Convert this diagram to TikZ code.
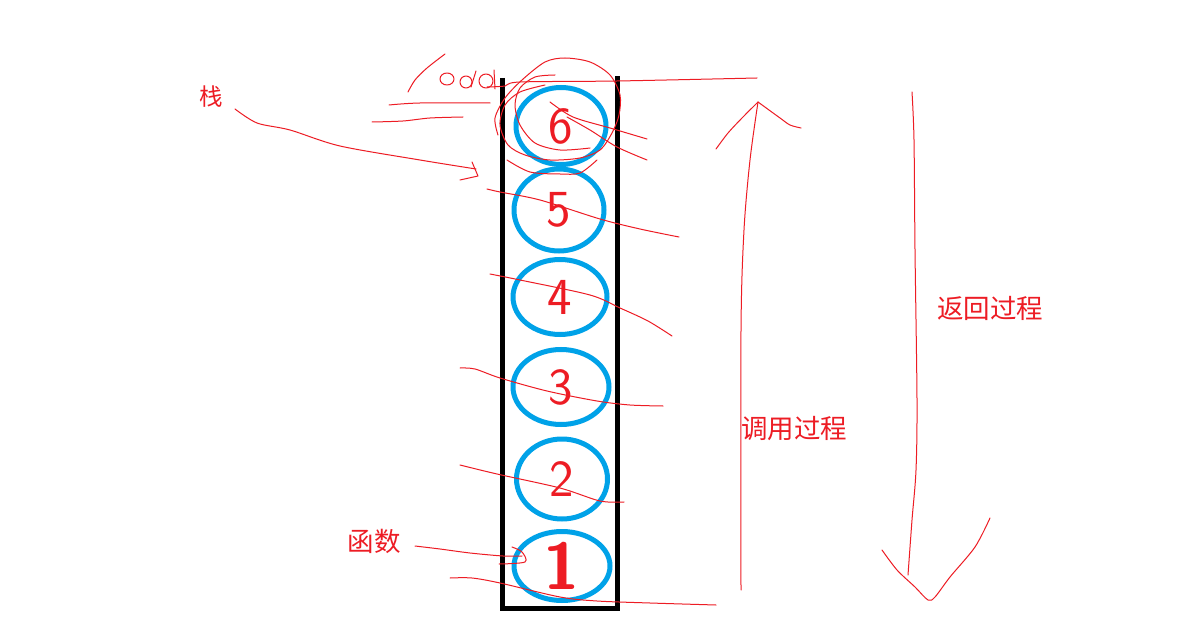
\documentclass[tikz,border=0pt]{standalone}
\usepackage{fontspec}
\newfontfamily\cjk{Noto Sans CJK SC}
\usetikzlibrary{shapes.geometric}
\definecolor{pred}{HTML}{ED1C24}
\definecolor{pblue}{HTML}{00A2E8}
\tikzset{
  frame/.style={line width=5pt, black},
  ball/.style={ellipse, draw=pblue, line width=5pt, inner sep=0pt, text=pred,
    font=\fontsize{52}{52}\selectfont\sffamily},
  scrib/.style={pred, line width=1pt, line join=round, line cap=round},
  lbl/.style={text=pred, font=\cjk\fontsize{26.5}{26.5}\selectfont, inner sep=0pt},
}
\begin{document}
\begin{tikzpicture}[x=1pt,y=-1pt]
\useasboundingbox[fill=white] (0,0) rectangle (1199,639);
% container
\coordinate (tl) at (502,78);
\coordinate (bl) at (502,608);
\coordinate (br) at (617,608);
\coordinate (tr) at (617,76);
\draw[frame] (tl) -- (bl) -- (br) -- (tr);
% balls
\node[ball, minimum width=90pt, minimum height=77pt] (b6) at (561,126) {6};
\node[ball, minimum width=90pt, minimum height=82pt] (b5) at (559,210) {5};
\node[ball, minimum width=94pt, minimum height=75pt] (b4) at (560,297) {4};
\node[ball, minimum width=96pt, minimum height=75pt] (b3) at (561,387) {3};
\node[ball, minimum width=91pt, minimum height=80pt] (b2) at (562,479) {2};
\node[ball, minimum width=96pt, minimum height=69pt, font=\fontsize{66}{66}\selectfont\sffamily\bfseries] (b1) at (562,566) {1};
% labels
\node[lbl, font=\cjk\fontsize{23.5}{23.5}\selectfont] (zhan) at (211,97) {栈};
\node[lbl] (hanshu) at (374,541) {函数};
\node[lbl] (diaoyong) at (794,429) {调用过程};
\node[lbl] (fanhui) at (990,308) {返回过程};
% arrow from 栈
\coordinate (zs) at (235,109);
\coordinate (ze) at (476,169);
\draw[scrib] plot[smooth] coordinates {(zs) (257,123) (290,130) (340,146) (420,160) (ze)};
\draw[scrib] (472,162) -- (478,176) -- (460,180);
% pointer from 函数
\draw[scrib] plot[smooth] coordinates {(415,546) (440,549) (470,553) (503,556) (522,556)};
\draw[scrib] plot[smooth] coordinates {(512,547) (522,552) (525,562) (499,564)};
% strike lines
\draw[scrib] plot[smooth] coordinates {(487,189) (500,192) (540,200) (600,219) (640,229) (679,237)};
\draw[scrib] plot[smooth] coordinates {(490,274) (520,280) (590,295) (620,308) (648,321) (672,336)};
\draw[scrib] plot[smooth] coordinates {(460,368) (475,369) (500,378) (547,391) (597,401) (630,405) (663,406)};
\draw[scrib] plot[smooth] coordinates {(460,465) (497,474) (560,488) (600,501) (624,502)};
\draw[scrib] plot[smooth] coordinates {(450,578) (472,578) (500,583) (560,597) (597,601) (650,603) (716,605)};
% top scribbles
\draw[scrib] plot[smooth] coordinates {(408,92) (415,80) (427,68) (445,54)};
\draw[scrib] (447,79) ellipse (7pt and 6pt);
\draw[scrib] (466,82) ellipse (6pt and 6pt);
\draw[scrib] (476,71) -- (471,87);
\draw[scrib] (486,81) ellipse (7pt and 7pt);
\draw[scrib] (494,70) -- (495,89);
\draw[scrib] plot[smooth] coordinates {(389,105) (420,103) (490,103)};
\draw[scrib] plot[smooth] coordinates {(372,122) (403,121) (430,118) (463,117)};
\draw[scrib] plot[smooth] coordinates {(487,87) (505,86) (520,82) (617,81) (757,78)};
\draw[scrib] plot[smooth] coordinates {(498,135) (495,118) (505,98) (522,80) (545,62) (565,58) (590,62) (610,75) (620,95) (619,115) (612,133) (600,150) (580,158) (550,160) (525,155) (508,145) (500,125) (505,105) (520,92) (545,85)};
\draw[scrib] plot[smooth] coordinates {(555,75) (535,77) (520,88) (515,105) (520,125) (535,143) (560,150) (590,148)};
\draw[scrib] plot[smooth] coordinates {(507,160) (530,172) (560,174) (580,173) (597,160)};
\draw[scrib] plot[smooth] coordinates {(550,102) (573,117) (610,128) (647,139)};
\draw[scrib] plot[smooth] coordinates {(567,117) (590,130) (617,147) (647,160)};
% call arrow (up)
\coordinate (ua) at (741,590);
\coordinate (ub) at (758,102);
\draw[scrib] plot[smooth] coordinates {(ua) (741,330) (744,230) (750,160) (ub)};
\draw[scrib] plot[smooth] coordinates {(716,149) (728,133) (742,118) (ub)};
\draw[scrib] plot[smooth] coordinates {(ub) (780,118) (790,125) (801,128)};
% return arrow (down)
\coordinate (da) at (912,92);
\coordinate (db) at (908,575);
\draw[scrib] plot[smooth] coordinates {(da) (914,140) (915,250) (917,400) (916,470) (912,520) (db)};
\draw[scrib] plot[smooth] coordinates {(882,550) (897,570) (915,587) (928,600) (935,597) (950,577) (975,547) (990,518)};
\end{tikzpicture}
\end{document}
